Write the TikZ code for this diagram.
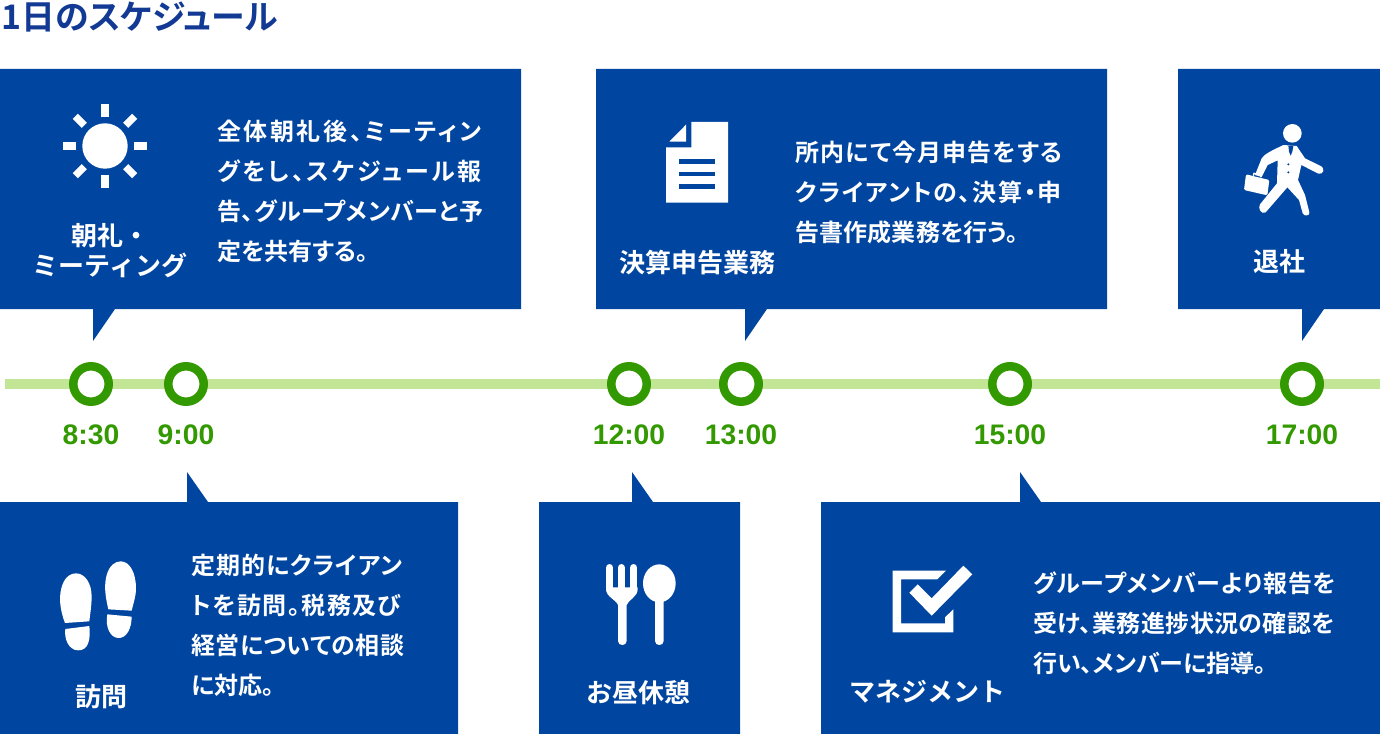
\documentclass[tikz,border=0pt]{standalone}
\usepackage{fontspec}
\setmainfont[RawFeature={+palt}]{Noto Sans CJK JP Bold}
\newfontfamily\labelfont{Noto Sans CJK JP Bold}
\newfontfamily\timefont{Liberation Sans}
\usetikzlibrary{positioning}
\definecolor{boxblue}{HTML}{00459F}
\definecolor{titleblue}{HTML}{123A94}
\definecolor{timegreen}{HTML}{339900}
\definecolor{linegreen}{HTML}{C2E696}
\newcommand{\spaced}[2]{{\addfontfeature{LetterSpace=#1}#2}}
\tikzset{
  panel/.style={fill=boxblue,draw=none},
  icon/.style={fill=white,draw=none},
  iconcut/.style={fill=boxblue,draw=none},
  timedot/.style={circle,draw=timegreen,fill=white,line width=6.4pt,minimum size=26.6pt,inner sep=0pt},
  timelabel/.style={font=\timefont\bfseries\fontsize{21.2pt}{24pt}\selectfont,text=timegreen,anchor=center,inner sep=0pt},
  panellabel/.style={font=\labelfont\fontsize{19.5pt}{22.5pt}\selectfont,text=white,anchor=center,align=center,inner sep=0pt},
  paneltext/.style={font=\fontsize{18pt}{30pt}\selectfont,text=white,anchor=west,align=left,inner sep=0pt},
  tine/.style={white,line width=5.5pt,line cap=round},
}
\begin{document}
\begin{tikzpicture}[x=0.75pt,y=-0.75pt]
\useasboundingbox (0,0) rectangle (1380,734);
\node[font=\fontsize{25.4pt}{28pt}\selectfont,text=titleblue,anchor=west,inner sep=0pt] (title) at (1,17) {1日のスケジュール};

% top panels
\draw[panel] (0,69) -- (521,69) -- (521,309) -- (115,309) -- (93,341) -- (93,309) -- (0,309) -- cycle;
\draw[panel] (596,69) -- (1107,69) -- (1107,309) -- (767,309) -- (745,341) -- (745,309) -- (596,309) -- cycle;
\draw[panel] (1178,69) -- (1380,69) -- (1380,309) -- (1324,309) -- (1302,341) -- (1302,309) -- (1178,309) -- cycle;
% bottom panels
\draw[panel] (0,502) -- (187,502) -- (187,472) -- (208,502) -- (458,502) -- (458,734) -- (0,734) -- cycle;
\draw[panel] (539,502) -- (632,502) -- (632,472) -- (653,502) -- (740,502) -- (740,734) -- (539,734) -- cycle;
\draw[panel] (821,502) -- (1020,502) -- (1020,472) -- (1041,502) -- (1380,502) -- (1380,734) -- (821,734) -- cycle;

% time line
\coordinate (linestart) at (5,384);
\coordinate (lineend) at (1380,384);
\draw[linegreen,line width=7.5pt] (linestart) -- (lineend);
\node[timedot] (dota) at (91,384) {};
\node[timedot] (dotb) at (186,384) {};
\node[timedot] (dotc) at (629,384) {};
\node[timedot] (dotd) at (741,384) {};
\node[timedot] (dote) at (1010,384) {};
\node[timedot] (dotf) at (1302,384) {};
\node[timelabel] (timea) at (91,435) {8:30};
\node[timelabel] (timeb) at (186,435) {9:00};
\node[timelabel] (timec) at (629,435) {12:00};
\node[timelabel] (timed) at (741,435) {13:00};
\node[timelabel] (timee) at (1010,435) {15:00};
\node[timelabel] (timef) at (1302,435) {17:00};

% sun
\fill[icon] (105,146) circle (22.7);
\foreach \a in {0,45,...,315}
  \draw[white,line width=5.5pt] (105,146) ++(\a:29.3) -- ++(\a:12.7);
% document
\fill[icon] (691.3,122) -- (728,122) -- (728,202.7) -- (666,202.7) -- (666,147.3) -- (691.3,147.3) -- cycle;
\fill[icon] (669.3,141.7) -- (686,124.7) -- (686,141.7) -- cycle;
\fill[iconcut] (679.3,159) rectangle (715.3,163.6);
\fill[iconcut] (679.3,171.7) rectangle (715.3,176.4);
\fill[iconcut] (679.3,184.3) rectangle (715.3,189.2);
% walking man
\begin{scope}[shift={(1230,115)},x=0.25pt,y=-0.25pt]
\fill[icon] (187,55) circle (28);
\fill[icon] (160,90) .. controls (130,105) and (105,115) .. (95,130) -- (75,180) -- (95,186) -- (113,150) -- (143,136) -- (141,205)
  -- (90,268) .. controls (82,280) and (95,300) .. (107,292) -- (172,217) -- (207,255) -- (218,295) .. controls (222,305) and (240,303) .. (238,292)
  -- (225,240) -- (204,195) -- (214,150) -- (265,176) .. controls (280,180) and (288,160) .. (270,152) -- (225,130) -- (200,93) -- cycle;
\fill[iconcut] (175,92) -- (190,92) -- (187,110) -- (182,122) -- (177,110) -- cycle;
\fill[iconcut] (175,148) circle (3.5);
\fill[iconcut] (175,172) circle (3.5);
\fill[icon,rounded corners=1pt] (48,178) -- (118,195) -- (112,241) -- (42,225) -- cycle;
\draw[white,line width=1pt] (70,182) -- (72,175) -- (92,180) -- (92,187);
\end{scope}
% shoe prints
\begin{scope}[shift={(50,555)},x=0.25pt,y=-0.25pt]
\fill[icon] (45,204) .. controls (28,160) and (26,120) .. (37,90) .. controls (47,62) and (65,55) .. (78,55) .. controls (105,55) and (125,85) .. (125,125) .. controls (125,150) and (120,180) .. (118,199) -- cycle;
\fill[icon] (46,222) -- (118,213) .. controls (122,250) and (117,286) .. (85,286) .. controls (55,286) and (42,250) .. (46,222) -- cycle;
\fill[icon] (175,163) .. controls (165,120) and (162,90) .. (170,60) .. controls (178,32) and (195,19) .. (212,19) .. controls (240,19) and (258,55) .. (258,100) .. controls (258,125) and (250,145) .. (245,167) -- cycle;
\fill[icon] (172,178) -- (245,185) .. controls (245,220) and (230,250) .. (205,249) .. controls (180,248) and (165,215) .. (172,178) -- cycle;
\end{scope}
% fork and spoon
\begin{scope}[shift={(595,555)},x=0.25pt,y=-0.25pt]
\draw[tine] (44,38) -- (44,100);
\draw[tine] (79,38) -- (79,100);
\draw[tine] (116,38) -- (116,100);
\fill[icon] (33,97) -- (128,97) -- (128,103) .. controls (128,125) and (100,135) .. (95,150) -- (95,258) .. controls (95,274) and (69,274) .. (69,258) -- (69,150) .. controls (64,135) and (33,125) .. (33,103) -- cycle;
\fill[icon] (193,85) ellipse (49 and 57);
\fill[icon] (180,130) -- (206,130) -- (206,258) .. controls (206,274) and (180,274) .. (180,258) -- cycle;
\end{scope}
% check box
\begin{scope}[shift={(880,555)},x=0.25pt,y=-0.25pt]
\fill[icon] (38,47) -- (198,47) -- (172,73) -- (63,73) -- (63,205) -- (195,205) -- (195,187) -- (220,163) -- (220,232) -- (38,232) -- cycle;
\fill[icon] (88,113) -- (113,88) -- (155,130) -- (250,32) -- (277,58) -- (155,182) -- cycle;
\end{scope}

\node[panellabel] (labela) at (110,251) {朝礼・\\ミーティング};
\node[panellabel] (labelb) at (697,263) {決算申告業務};
\node[panellabel] (labelc) at (1279,262) {退社};
\node[panellabel] (labeld) at (101,697) {訪問};
\node[panellabel] (labele) at (638,693) {お昼休憩};
\node[panellabel] (labelf) at (927,692) {マネジメント};

\node[paneltext] (texta) at (217,191) {\spaced{10.7}{全体朝礼後、ミーティン}\\\spaced{11.3}{グをし、スケジュール報}\\\spaced{2.1}{告、グループメンバーと予}\\定を共有する。};
\node[paneltext] (textb) at (795,192) {\spaced{5}{所内にて今月申告をする}\\\spaced{7}{クライアントの、決算・申}\\\spaced{0.7}{告書作成業務を行う。}};
\node[paneltext] (textd) at (191,625) {\spaced{4}{定期的にクライアン}\\\spaced{6}{トを訪問。税務及び}\\\spaced{1.8}{経営についての相談}\\に対応。};
\node[paneltext] (textf) at (1033,623) {\spaced{4}{グループメンバーより報告を}\\\spaced{1.7}{受け、業務進捗状況の確認を}\\行い、メンバーに指導。};
\end{tikzpicture}
\end{document}
